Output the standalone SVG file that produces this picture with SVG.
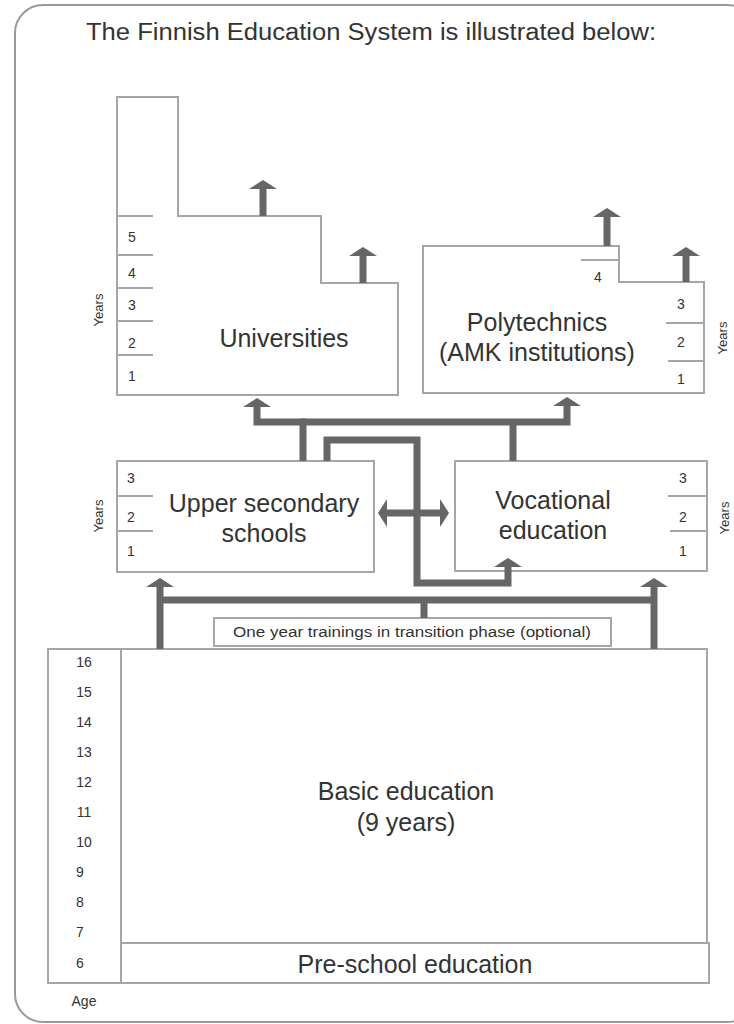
<svg xmlns="http://www.w3.org/2000/svg" width="734" height="1024" viewBox="0 0 734 1024">
<style>
  .box { fill: #fff; stroke: #a6a6a6; stroke-width: 2; }
  .tick { stroke: #a6a6a6; stroke-width: 2; }
  .t { font-family: "Liberation Sans", Arial, sans-serif; fill: #333; }
  .big { font-size: 25px; text-anchor: middle; }
  .num { font-size: 14px; text-anchor: middle; }
  .yr { font-size: 13px; text-anchor: middle; }
  .conn { fill: none; stroke: #666; stroke-width: 7; stroke-linejoin: miter; }
</style>
<defs>
  <marker id="ah" markerUnits="userSpaceOnUse" markerWidth="10" markerHeight="28" viewBox="0 0 10 28" refX="0" refY="14" orient="auto-start-reverse">
    <path d="M0,0 L9,14 L0,28 z" fill="#666"/>
  </marker>
</defs>
<rect x="15" y="5" width="740" height="1017" rx="28" ry="28" fill="#fff" stroke="#9a9a9a" stroke-width="2"/>
<text class="t" x="371" y="40" font-size="23" text-anchor="middle" textLength="570" lengthAdjust="spacingAndGlyphs">The Finnish Education System is illustrated below:</text>

<g id="universities">
  <path class="box" d="M117,97 H178 V216 H321 V283 H398 V395 H117 Z"/>
  <line class="tick" x1="117" y1="216" x2="153" y2="216"/>
  <line class="tick" x1="117" y1="255" x2="153" y2="255"/>
  <line class="tick" x1="117" y1="288" x2="153" y2="288"/>
  <line class="tick" x1="117" y1="321" x2="153" y2="321"/>
  <line class="tick" x1="117" y1="355" x2="153" y2="355"/>
  <text class="t num" x="132" y="242">5</text>
  <text class="t num" x="132" y="278">4</text>
  <text class="t num" x="132" y="310">3</text>
  <text class="t num" x="132" y="348">2</text>
  <text class="t num" x="132" y="381">1</text>
  <text class="t yr" transform="translate(103,310) rotate(-90)">Years</text>
  <text class="t big" x="284" y="347">Universities</text>
</g>

<g id="polytechnics">
  <path class="box" d="M423,246 H619 V282 H704 V393 H423 Z"/>
  <line class="tick" x1="581" y1="260" x2="619" y2="260"/>
  <line class="tick" x1="666" y1="323" x2="704" y2="323"/>
  <line class="tick" x1="668" y1="361" x2="704" y2="361"/>
  <text class="t num" x="598" y="282">4</text>
  <text class="t num" x="681" y="309">3</text>
  <text class="t num" x="681" y="347">2</text>
  <text class="t num" x="681" y="384">1</text>
  <text class="t yr" transform="translate(727,338) rotate(-90)">Years</text>
  <text class="t big" x="537" y="331">Polytechnics</text>
  <text class="t big" x="537" y="361">(AMK institutions)</text>
</g>

<g id="upper-secondary">
  <rect class="box" x="117" y="461" width="257" height="111"/>
  <line class="tick" x1="117" y1="496" x2="153" y2="496"/>
  <line class="tick" x1="117" y1="531" x2="153" y2="531"/>
  <text class="t num" x="131" y="483">3</text>
  <text class="t num" x="131" y="522">2</text>
  <text class="t num" x="131" y="556">1</text>
  <text class="t yr" transform="translate(103,516) rotate(-90)">Years</text>
  <text class="t big" x="264" y="512">Upper secondary</text>
  <text class="t big" x="264" y="542">schools</text>
</g>

<g id="vocational">
  <rect class="box" x="455" y="461" width="252" height="110"/>
  <line class="tick" x1="668" y1="496" x2="707" y2="496"/>
  <line class="tick" x1="670" y1="531" x2="707" y2="531"/>
  <text class="t num" x="683" y="483">3</text>
  <text class="t num" x="683" y="522">2</text>
  <text class="t num" x="683" y="556">1</text>
  <text class="t yr" transform="translate(729,518) rotate(-90)">Years</text>
  <text class="t big" x="553" y="509">Vocational</text>
  <text class="t big" x="553" y="539">education</text>
</g>

<g id="transition">
  <rect class="box" x="214" y="618" width="397" height="28"/>
  <text class="t" x="412" y="637" font-size="14" text-anchor="middle" textLength="358" lengthAdjust="spacingAndGlyphs">One year trainings in transition phase (optional)</text>
</g>

<g id="basic">
  <rect class="box" x="48" y="649" width="73" height="334"/>
  <rect class="box" x="121" y="649" width="586" height="294"/>
  <text class="t num" x="84" y="667">16</text>
  <text class="t num" x="84" y="697">15</text>
  <text class="t num" x="84" y="727">14</text>
  <text class="t num" x="84" y="757">13</text>
  <text class="t num" x="84" y="787">12</text>
  <text class="t num" x="84" y="817">11</text>
  <text class="t num" x="84" y="847">10</text>
  <text class="t num" x="80" y="877">9</text>
  <text class="t num" x="80" y="907">8</text>
  <text class="t num" x="80" y="937">7</text>
  <text class="t num" x="80" y="968">6</text>
  <text class="t" x="84" y="1006" font-size="14" text-anchor="middle">Age</text>
  <text class="t big" x="406" y="800">Basic education</text>
  <text class="t big" x="406" y="831">(9 years)</text>
</g>

<g id="preschool">
  <rect class="box" x="121" y="943" width="588" height="40"/>
  <text class="t big" x="415" y="973">Pre-school education</text>
</g>

<g id="connectors">
  <path class="conn" d="M263,216 V189" marker-end="url(#ah)"/>
  <path class="conn" d="M363,283 V256" marker-end="url(#ah)"/>
  <path class="conn" d="M607,246 V217" marker-end="url(#ah)"/>
  <path class="conn" d="M686,282 V256" marker-end="url(#ah)"/>
  <path class="conn" d="M303,461 V422 H257 V407" marker-end="url(#ah)"/>
  <path class="conn" d="M300,422 H567 V406" marker-end="url(#ah)"/>
  <path class="conn" d="M513,461 V422"/>
  <path class="conn" d="M327,461 V440 H417 V583 H508 V567" marker-end="url(#ah)"/>
  <path class="conn" d="M387,513 H440" marker-start="url(#ah)" marker-end="url(#ah)"/>
  <path class="conn" d="M160,649 V587" marker-end="url(#ah)"/>
  <path class="conn" d="M654,649 V587" marker-end="url(#ah)"/>
  <path class="conn" d="M160,600 H654"/>
  <path class="conn" d="M424,600 V618"/>
</g>
</svg>
